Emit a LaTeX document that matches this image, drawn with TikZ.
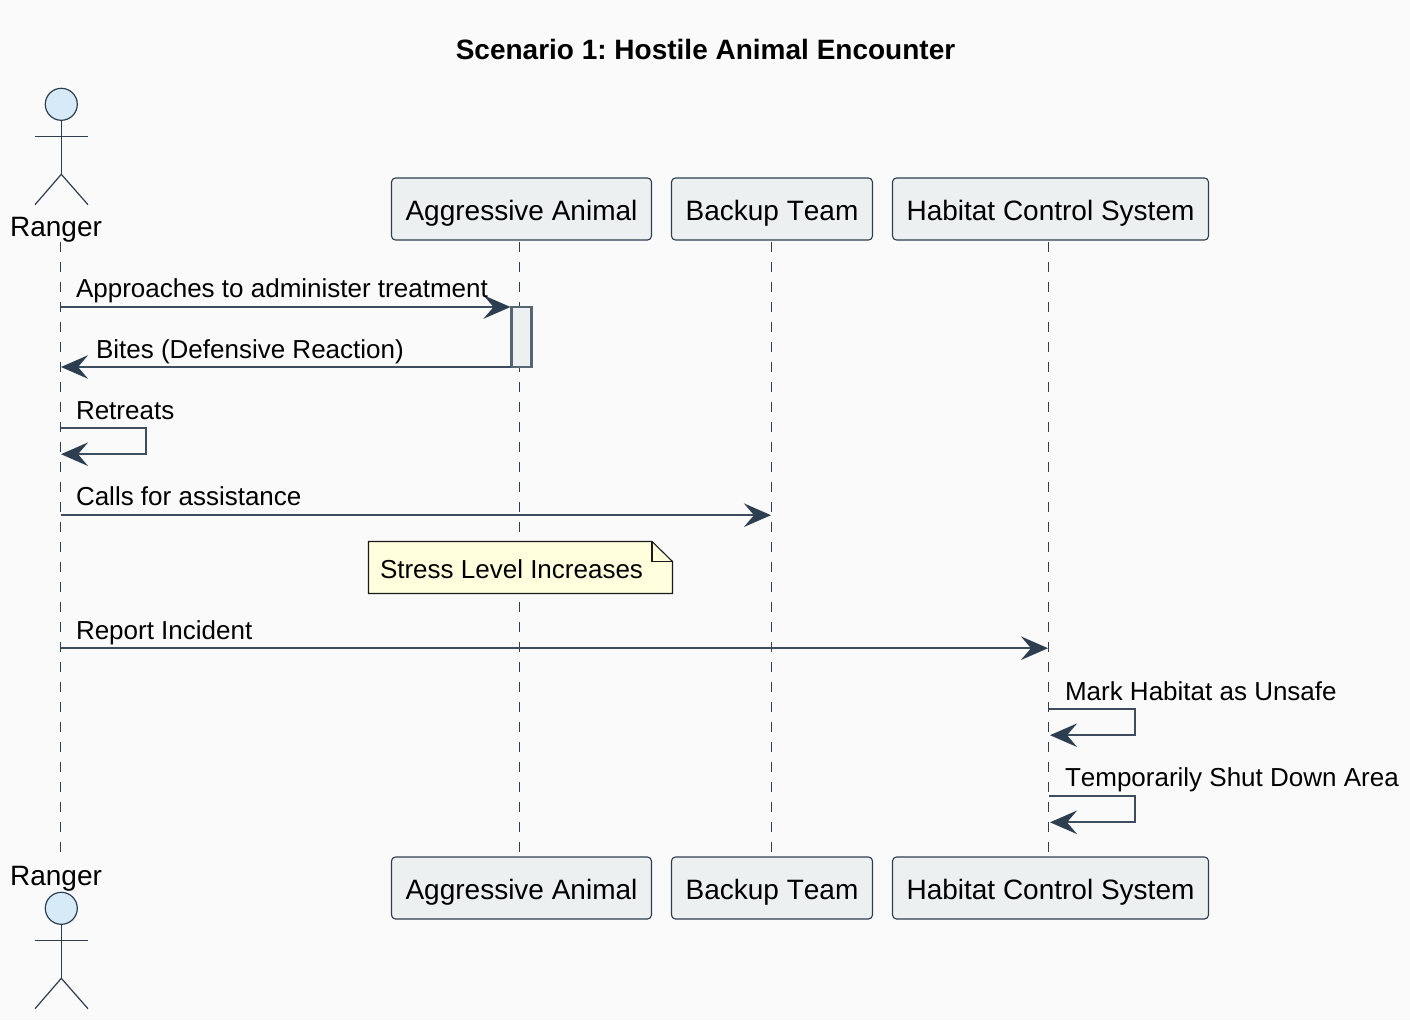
\documentclass[tikz,border=0pt]{standalone}
\usepackage{fontspec}
\setmainfont[Kerning=Off,Ligatures=NoCommon]{Liberation Sans}
\frenchspacing
\usetikzlibrary{arrows.meta}
\definecolor{bgc}{HTML}{FAFAFA}
\definecolor{ink}{HTML}{2C3E50}
\definecolor{boxfill}{HTML}{ECF0F1}
\definecolor{headfill}{HTML}{D6EAF8}
\definecolor{notefill}{HTML}{FFFFDD}
\definecolor{notedraw}{HTML}{1A1A1A}
\tikzset{
  x=1pt,y=-1pt,
  every node/.style={inner sep=0pt,outer sep=0pt,font=\fontsize{26}{30}\selectfont,text=black},
  partbox/.style={draw=ink,fill=boxfill,line width=1.1pt,rounded corners=4pt,minimum height=62pt,text height=24pt,text depth=2pt,align=center,font=\fontsize{28}{32}\selectfont},
  actorname/.style={anchor=base,font=\fontsize{28}{32}\selectfont},
  lifeline/.style={draw=ink,line width=1pt,dash pattern=on 10pt off 10pt},
  msg/.style={draw=ink!92!white,line width=2.2pt,-{Stealth[length=27pt,width=23.5pt,inset=10pt,color=ink]}},
  msglabel/.style={anchor=base west},
  activebar/.style={draw=ink!80!white,fill=boxfill,line width=2.2pt},
  stick/.style={draw=ink,line width=1.2pt},
  headc/.style={draw=ink,fill=headfill,line width=1.2pt},
  notebody/.style={draw=notedraw,fill=notefill,line width=1.1pt},
}
\begin{document}
\begin{tikzpicture}
\useasboundingbox (0,0) rectangle (1410,1020);
\fill[bgc] (0,0) rectangle (1410,1020);
\node[font=\bfseries\fontsize{28}{32}\selectfont,anchor=base] (title) at (705.5,59) {Scenario 1: Hostile Animal Encounter};
% lifeline anchors
\coordinate (rT) at (60.5,242); \coordinate (rB) at (60.5,857);
\coordinate (aT) at (519,242); \coordinate (aB) at (519,857);
\coordinate (bT) at (771,242); \coordinate (bB) at (771,857);
\coordinate (hT) at (1048,242); \coordinate (hB) at (1048,857);
\draw[lifeline] (rT) -- (rB);
\draw[lifeline] (aT) -- (aB);
\draw[lifeline] (bT) -- (bB);
\draw[lifeline] (hT) -- (hB);
% participants
\node[partbox,minimum width=260pt] (animalT) at (521.5,209) {Aggressive Animal};
\node[partbox,minimum width=201pt] (backupT) at (772,209) {Backup Team};
\node[partbox,minimum width=316pt] (habitatT) at (1050.5,209) {Habitat Control System};
\node[partbox,minimum width=260pt] (animalB) at (521.5,888) {Aggressive Animal};
\node[partbox,minimum width=201pt] (backupB) at (772,888) {Backup Team};
\node[partbox,minimum width=316pt] (habitatB) at (1050.5,888) {Habitat Control System};
% actor top
\draw[stick] (61.3,120.5) -- (61.3,174.3);
\draw[stick] (35,136.3) -- (88,136.3);
\draw[stick] (35,204.7) -- (61.3,174.3) -- (88,204.7);
\draw[headc] (61.3,104.3) circle[radius=16];
\node[actorname] (rangerT) at (56,236) {Ranger};
% actor bottom
\draw[stick] (61.3,924.5) -- (61.3,978.3);
\draw[stick] (35,940.3) -- (88,940.3);
\draw[stick] (35,1008.7) -- (61.3,978.3) -- (88,1008.7);
\draw[headc] (61.3,908.3) circle[radius=16];
\node[actorname] (rangerB) at (56,885) {Ranger};
% activation
\node[activebar,minimum width=20pt,minimum height=60.5pt,anchor=north west] (act) at (511.5,306.8) {};
% messages
\coordinate (m1s) at (60.5,307); \coordinate (m1e) at (510.5,307);
\draw[msg] (m1s) -- (m1e);
\node[msglabel] at (76,297) {Approaches to administer treatment};
\coordinate (m2s) at (511,367); \coordinate (m2e) at (61,367);
\draw[msg] (m2s) -- (m2e);
\node[msglabel] at (96,358) {Bites (Defensive Reaction)};
\coordinate (m3s) at (60.5,428.2); \coordinate (m3c) at (146,428.2); \coordinate (m3d) at (146,454.2); \coordinate (m3e) at (61,454.2);
\draw[msg] (m3s) -- (m3c) -- (m3d) -- (m3e);
\node[msglabel] at (76,419) {Retreats};
\coordinate (m4s) at (60.5,515.2); \coordinate (m4e) at (771,515.2);
\draw[msg] (m4s) -- (m4e);
\node[msglabel] at (76,505.5) {Calls for assistance};
% note
\draw[notebody] (368.5,541.5) -- (652,541.5) -- (672.5,561.5) -- (672.5,593.5) -- (368.5,593.5) -- cycle;
\draw[notebody,fill=none] (652,541.5) -- (652,561.5) -- (672.5,561.5);
\node[msglabel] (note) at (380,578.5) {Stress Level Increases};
\coordinate (m5s) at (60.5,648.2); \coordinate (m5e) at (1048,648.2);
\draw[msg] (m5s) -- (m5e);
\node[msglabel] at (76,639) {Report Incident};
\coordinate (m6s) at (1049,709.2); \coordinate (m6c) at (1135,709.2); \coordinate (m6d) at (1135,735.2); \coordinate (m6e) at (1050,735.2);
\draw[msg] (m6s) -- (m6c) -- (m6d) -- (m6e);
\node[msglabel] at (1065,700) {Mark Habitat as Unsafe};
\coordinate (m7s) at (1049,796.3); \coordinate (m7c) at (1135,796.3); \coordinate (m7d) at (1135,822.3); \coordinate (m7e) at (1050,822.3);
\draw[msg] (m7s) -- (m7c) -- (m7d) -- (m7e);
\node[msglabel] at (1065,786) {Temporarily Shut Down Area};
\end{tikzpicture}
\end{document}
